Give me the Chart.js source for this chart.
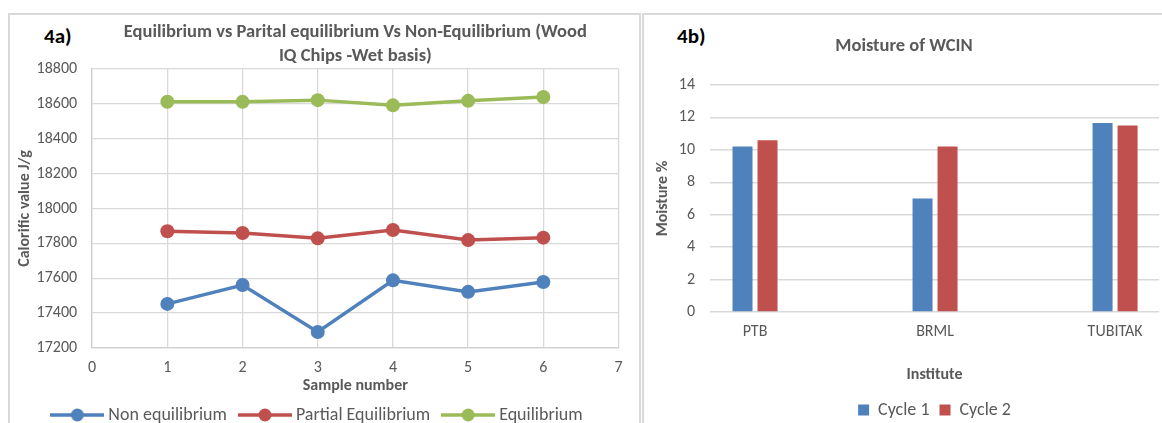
<!DOCTYPE html>
<html>
<head>
<meta charset="utf-8">
<script src="https://cdn.jsdelivr.net/npm/chart.js@4.4.1/dist/chart.umd.min.js"></script>
<style>
    body { margin: 0; width: 1162px; height: 423px; overflow: hidden; background: #fff; font-family: Carlito, Calibri, Lato, sans-serif; }
    .panel { position: absolute; border: 2px solid #d9d9d9; box-sizing: border-box; }
    .tag { position: absolute; font: bold 21px Carlito, Calibri, Lato, sans-serif; color: #000; }
    .box { position: absolute; }
</style>
</head>
<body>
<div class="panel" style="left:8px;top:13px;width:633px;height:430px;"></div>
<div class="panel" style="left:642px;top:13px;width:540px;height:430px;"></div>
<div class="tag" style="left:44px;top:23px;">4a)</div>
<div class="tag" style="left:677px;top:23px;">4b)</div>
<div class="box" style="left:9px;top:14px;width:624px;height:420px;"><canvas id="lineChart"></canvas></div>
<div class="box" style="left:644px;top:14px;width:518px;height:415px;"><canvas id="barChart"></canvas></div>
<script>
// 4a) calorific value per sample
var sampleNumbers = [1, 2, 3, 4, 5, 6];
var nonEquilibrium = [17453, 17561, 17292, 17588, 17522, 17579];
var partialEquilibrium = [17870, 17860, 17829, 17877, 17819, 17833];
var equilibrium = [18613, 18612, 18622, 18592, 18618, 18640];

// 4b) moisture per institute
var institutes = ['PTB', 'BRML', 'TUBITAK'];
var cycle1 = [10.2, 7.0, 11.65];
var cycle2 = [10.6, 10.2, 11.5];

var FONT = 'Carlito, Calibri, Lato, sans-serif';
var GREY = '#595959';
var GRID = '#d9d9d9';
var BLUE = '#4f81bd', RED = '#c0504d', GREEN = '#9bbb59';

Chart.defaults.font.family = FONT;
Chart.defaults.color = GREY;
Chart.defaults.animation = false;

function points(xs, ys) {
    return xs.map(function(x, i) { return {x: x, y: ys[i]}; });
}

// legend marker: short line with a dot in the middle, like Excel
function lineMarker(color) {
    var c = document.createElement('canvas');
    c.width = 54;
    c.height = 16;
    var g = c.getContext('2d');
    g.strokeStyle = color;
    g.lineWidth = 3.5;
    g.beginPath();
    g.moveTo(0, 8);
    g.lineTo(54, 8);
    g.stroke();
    g.fillStyle = color;
    g.beginPath();
    g.arc(27, 8, 6.5, 0, Math.PI * 2);
    g.fill();
    return c;
}

function lineSet(label, ys, color) {
    return {
        label: label,
        data: points(sampleNumbers, ys),
        borderColor: color,
        backgroundColor: color,
        borderWidth: 3.5,
        pointRadius: 7,
        pointBorderWidth: 0,
        pointBackgroundColor: color,
        marker: lineMarker(color)
    };
}

new Chart(document.getElementById('lineChart'), {
    type: 'line',
    data: {
        datasets: [
            lineSet('Non equilibrium', nonEquilibrium, BLUE),
            lineSet('Partial Equilibrium', partialEquilibrium, RED),
            lineSet('Equilibrium', equilibrium, GREEN)
        ]
    },
    options: {
        responsive: true,
        maintainAspectRatio: false,
        layout: { padding: { left: 2, right: 6, top: 0, bottom: 0 } },
        plugins: {
            tooltip: { enabled: false },
            title: {
                display: true,
                fullSize: false,
                text: ['Equilibrium vs Parital equilibrium Vs Non-Equilibrium (Wood', 'IQ Chips -Wet basis)'],
                color: GREY,
                font: { size: 18.5, weight: 'bold', lineHeight: 1.3 },
                padding: { top: 6, bottom: 1 }
            },
            legend: {
                position: 'bottom',
                labels: {
                    color: GREY,
                    font: { size: 18 },
                    usePointStyle: true,
                    pointStyleWidth: 44,
                    padding: 16,
                    generateLabels: function(chart) {
                        var items = Chart.defaults.plugins.legend.labels.generateLabels(chart);
                        items.forEach(function(it) {
                            it.pointStyle = chart.data.datasets[it.datasetIndex].marker;
                        });
                        return items;
                    }
                }
            }
        },
        scales: {
            x: {
                type: 'linear',
                min: 0,
                max: 7,
                ticks: { stepSize: 1, padding: 10.4, color: GREY, font: { size: 16 } },
                grid: { color: GRID, lineWidth: 1.3, drawTicks: false },
                border: { color: '#cfcfcf', width: 1.3 },
                title: { display: true, text: 'Sample number', color: GREY, font: { size: 16, weight: 'bold' }, padding: { top: -11.6, bottom: -5.6 } }
            },
            y: {
                min: 17200,
                max: 18800,
                ticks: {
                    stepSize: 200,
                    padding: 15,
                    color: GREY,
                    font: { size: 16 },
                    callback: function(v) { return String(v); }
                },
                grid: { color: GRID, lineWidth: 1.3, drawTicks: false },
                border: { color: '#cfcfcf', width: 1.3 },
                title: { display: true, text: 'Calorific value J/g', color: GREY, font: { size: 16, weight: 'bold' }, padding: { top: 4.4, bottom: -13 } }
            }
        }
    }
});

function barSet(label, ys, color) {
    return {
        label: label,
        data: points(institutes.map(function(n, i) { return i; }), ys),
        backgroundColor: color,
        borderWidth: 0,
        categoryPercentage: 50 / 180,
        barPercentage: 0.8
    };
}

new Chart(document.getElementById('barChart'), {
    type: 'bar',
    data: {
        datasets: [
            barSet('Cycle 1', cycle1, BLUE),
            barSet('Cycle 2', cycle2, RED)
        ]
    },
    options: {
        responsive: true,
        maintainAspectRatio: false,
        layout: { padding: { left: 5, right: 3, top: 0, bottom: 0 } },
        plugins: {
            tooltip: { enabled: false },
            title: {
                display: true,
                text: 'Moisture of WCIN',
                color: GREY,
                font: { size: 18.5, weight: 'bold' },
                padding: { top: 20.9, bottom: 27.9 }
            },
            legend: {
                position: 'bottom',
                fullSize: false,
                labels: { color: GREY, font: { size: 18 }, boxWidth: 11, boxHeight: 11, padding: 10 }
            }
        },
        scales: {
            x: {
                type: 'linear',
                offset: false,
                min: -0.25,
                max: 2.244,
                ticks: {
                    stepSize: 1,
                    includeBounds: false,
                    padding: 10.4,
                    color: GREY,
                    font: { size: 16 },
                    callback: function(v) { return institutes[v] || ''; }
                },
                grid: { display: false, drawTicks: false },
                border: { display: false },
                title: { display: true, text: 'Institute', color: GREY, font: { size: 16, weight: 'bold' }, padding: { top: 13.4, bottom: 6.4 } }
            },
            y: {
                min: 0,
                max: 14,
                ticks: { stepSize: 2, padding: 15, color: GREY, font: { size: 16 } },
                grid: { color: GRID, lineWidth: 1.5, drawTicks: false },
                border: { display: false },
                title: { display: true, text: 'Moisture %', color: GREY, font: { size: 16, weight: 'bold' }, padding: { top: 4.4, bottom: -8.8 } }
            }
        }
    }
});
</script>
</body>
</html>
